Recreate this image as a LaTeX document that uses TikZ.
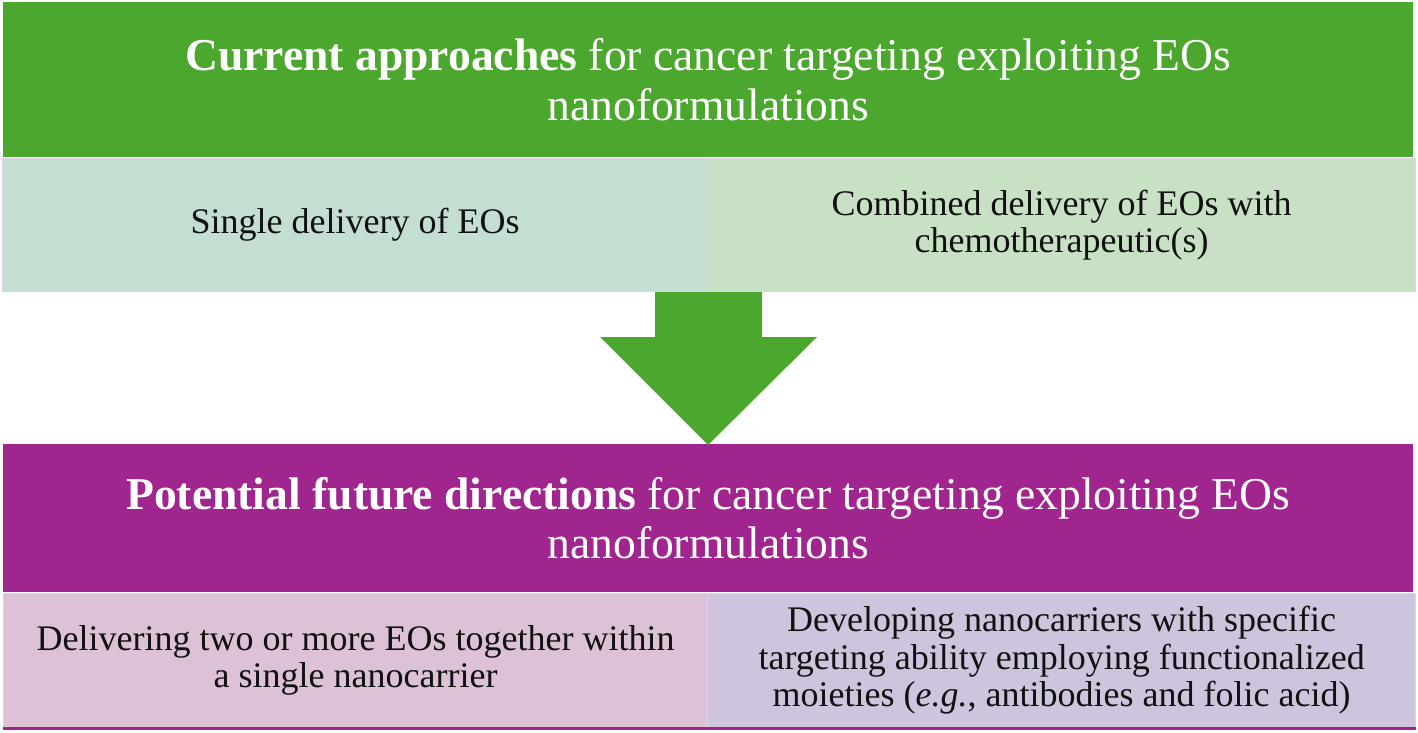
\documentclass[tikz,border=0pt]{standalone}
\usepackage{fontspec}
\setmainfont{Liberation Serif}
\definecolor{hdrgreen}{RGB}{76,167,46}
\definecolor{hdrpurple}{RGB}{160,37,143}
\definecolor{cellA}{RGB}{197,222,210}
\definecolor{cellB}{RGB}{200,224,196}
\definecolor{cellC}{RGB}{220,193,215}
\definecolor{cellD}{RGB}{206,196,222}
\definecolor{cellline}{RGB}{228,208,232}
\definecolor{txt}{RGB}{17,17,17}
\begin{document}
\begin{tikzpicture}[x=1pt,y=-1pt,
  hdr/.style={anchor=north west,inner sep=0pt,draw=none,text=white,align=center,
    font=\fontsize{45.6}{49.5}\selectfont},
  cell/.style={anchor=north west,inner sep=0pt,draw=cellline,line width=1.2pt,text=txt,align=center,
    font=\fontsize{36}{37.5}\selectfont}]
\useasboundingbox (0,0) rectangle (1418,733);
% top header
\node[hdr,fill=hdrgreen,minimum width=1410pt,minimum height=155pt] (hA) at (3,2)
  {\textbf{Current approaches} for cancer targeting exploiting EOs\\nanoformulations};
\node[cell,fill=cellA,minimum width=705pt,minimum height=133pt] (c1) at (2,158)
  {\raisebox{-3pt}{Single delivery of EOs}};
\node[cell,fill=cellB,minimum width=708pt,minimum height=133pt] (c2) at (707,158)
  {Combined delivery of EOs with\\chemotherapeutic(s)};
% bottom header
\node[hdr,fill=hdrpurple,minimum width=1410pt,minimum height=148pt] (hB) at (3,444)
  {\textbf{Potential future directions} for cancer targeting exploiting EOs\\nanoformulations};
\node[cell,fill=cellC,minimum width=704pt,minimum height=134pt] (d1) at (3,593)
  {Delivering two or more EOs together within\\a single nanocarrier};
\node[cell,fill=cellD,minimum width=708pt,minimum height=134pt] (d2) at (707,593)
  {Developing nanocarriers with specific\\targeting ability employing functionalized\\moieties (\textit{e.g.}, antibodies and folic acid)};
\draw[hdrpurple,line width=3pt] (d1.south west) -- (d2.south east);
% block arrow
\fill[hdrgreen] (655,292) -- (762,292) -- (762,337) -- (817,337) -- (708,445)
  -- (600,337) -- (655,337) -- cycle;
\end{tikzpicture}
\end{document}
